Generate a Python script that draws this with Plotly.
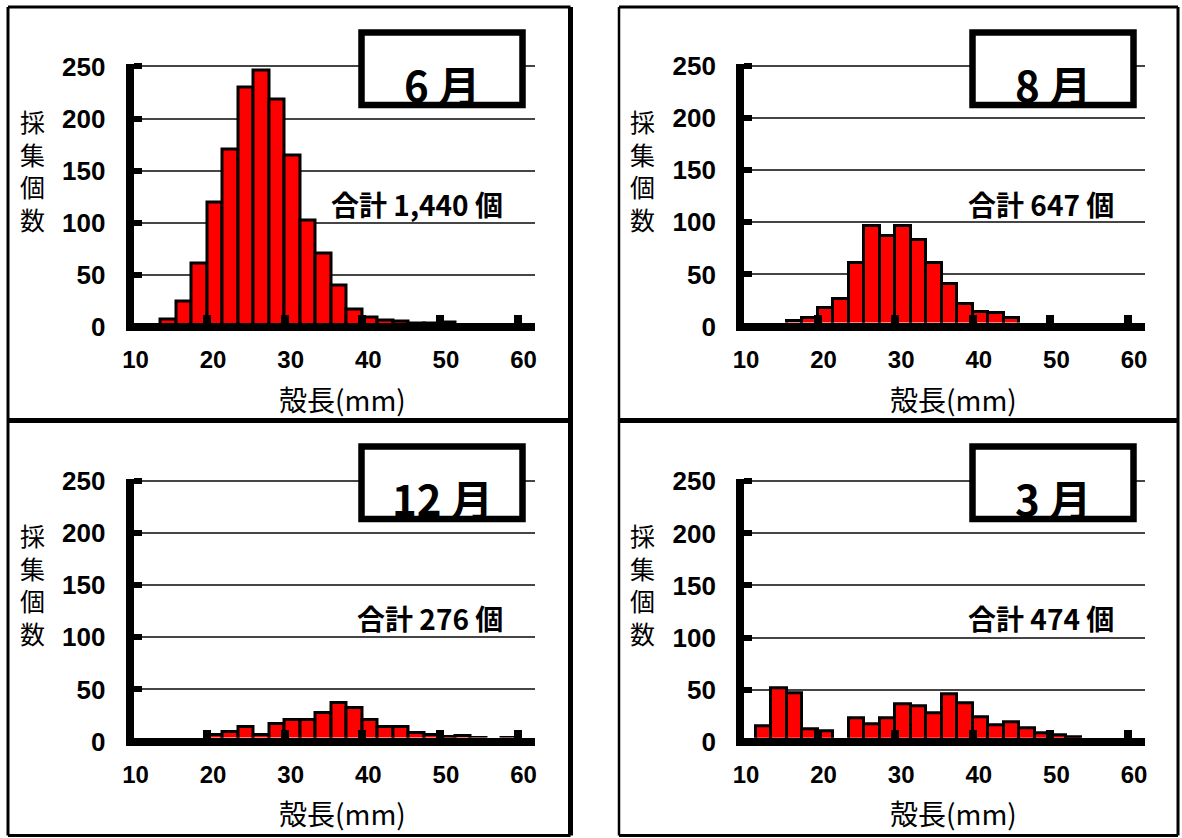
import plotly.graph_objects as go

# Shell-length classes in mm (left edge of each 2 mm class)
length_bins = [10, 12, 14, 16, 18, 20, 22, 24, 26, 28, 30, 32, 34,
               36, 38, 40, 42, 44, 46, 48, 50, 52, 54, 56, 58]

# Number of shells collected per class, by survey month
count_jun = [0, 0, 7, 25, 61, 120, 170, 230, 246, 218, 165, 102, 71,
             40, 17, 9, 6, 5, 3, 3, 4, 2, 1, 1, 1]
count_aug = [0, 0, 0, 5, 8, 18, 26, 61, 97, 87, 97, 83, 61,
             41, 22, 14, 13, 8, 2, 1, 1, 1, 1, 0, 0]
count_dec = [0, 1, 1, 1, 2, 6, 9, 14, 6, 17, 21, 21, 27,
             37, 32, 21, 14, 14, 8, 6, 4, 5, 3, 2, 3]
count_mar = [0, 15, 51, 47, 12, 10, 2, 23, 17, 23, 36, 34, 27,
             46, 37, 24, 16, 19, 13, 8, 6, 4, 2, 1, 1]

month_labels = ["6 月", "8 月", "12 月", "3 月"]
total_labels = ["合計 1,440 個", "合計 647 個", "合計 276 個", "合計 474 個"]

x_tick_vals = [10, 20, 30, 40, 50, 60]
y_tick_vals = [0, 50, 100, 150, 200, 250]
y_axis_title = "採集個数"
x_axis_title = "殻長(mm)"

series = [count_jun, count_aug, count_dec, count_mar]

# ---- page geometry (pixels) ----
W, H = 1182, 838
SX, SY = 7.76, 1.042          # px per mm, px per shell
X_MIN, X_MAX, Y_MAX = 10, 62.2, 252
LW = 8                        # heavy axis line width
HALF = LW / 2
origins = [(129.5, 327.0), (740.0, 326.5), (129.5, 741.5), (740.0, 741.8)]
shifts = [(0, 0), (611, 0), (0, 414), (611, 414)]

CJK = "Noto Sans CJK JP"
NUM = "Liberation Sans, Arial"


def px(x):
    return x / W


def py(y):
    return 1 - y / H


fig = go.Figure()
layout = dict(
    width=W, height=H,
    margin=dict(l=0, r=0, t=0, b=0, autoexpand=False),
    paper_bgcolor="white", plot_bgcolor="rgba(0,0,0,0)",
    showlegend=False, bargap=0,
)
shapes, annotations = [], []

for i, counts in enumerate(series):
    ox, oy = origins[i]
    dx, dy = shifts[i]
    right = ox + (X_MAX - X_MIN) * SX
    top = oy - Y_MAX * SY
    n_main, n_lab = i + 1, i + 5

    fig.add_trace(go.Bar(
        x=length_bins, y=counts, width=2, offset=0,
        marker=dict(color="#ff0000", line=dict(color="black", width=3)),
        xaxis=f"x{n_main}", yaxis=f"y{n_main}", hoverinfo="x+y",
    ))
    # empty trace that carries the tick-label axes
    fig.add_trace(go.Scatter(x=[], y=[], xaxis=f"x{n_lab}", yaxis=f"y{n_lab}",
                             hoverinfo="skip"))

    layout[f"xaxis{n_main}"] = dict(
        domain=[px(ox + HALF), px(right)], range=[X_MIN + HALF / SX, X_MAX],
        anchor=f"y{n_main}", showline=True, linecolor="black", linewidth=LW,
        ticks="inside", tickvals=x_tick_vals, ticklen=8, tickwidth=8,
        tickcolor="black", showticklabels=False, showgrid=False,
        zeroline=False, fixedrange=True, automargin=False,
    )
    layout[f"yaxis{n_main}"] = dict(
        domain=[py(oy - HALF), py(top)], range=[HALF / SY, Y_MAX],
        anchor=f"x{n_main}", showline=True, linecolor="black", linewidth=LW,
        ticks="inside", tickvals=y_tick_vals, ticklen=8, tickwidth=6,
        tickcolor="black", showticklabels=False, showgrid=True,
        gridcolor="#454545", gridwidth=1.5, zeroline=False, fixedrange=True,
        automargin=False,
    )
    layout[f"xaxis{n_lab}"] = dict(
        domain=[px(ox), px(right)], range=[X_MIN, X_MAX], anchor=f"y{n_lab}",
        tickvals=x_tick_vals, ticktext=[str(v) for v in x_tick_vals],
        ticks="", showline=False, showgrid=False, zeroline=False,
        tickfont=dict(family=NUM, size=24, color="black", weight="bold"),
        ticklabelstandoff=16, ticklabelshift=6, fixedrange=True,
        automargin=False,
    )
    layout[f"yaxis{n_lab}"] = dict(
        domain=[py(oy), py(top)], range=[0, Y_MAX], anchor=f"x{n_lab}",
        tickvals=y_tick_vals, ticktext=[str(v) for v in y_tick_vals],
        ticks="", showline=False, showgrid=False, zeroline=False,
        tickfont=dict(family=NUM, size=26, color="black", weight="bold"),
        ticklabelstandoff=23, fixedrange=True, automargin=False,
    )

    # month box
    shapes.append(dict(type="rect", xref="paper", yref="paper",
                       x0=px(361.5 + dx), x1=px(522.5 + dx),
                       y0=py(105 + dy), y1=py(32.5 + dy),
                       line=dict(color="black", width=6.5),
                       fillcolor="white", layer="above"))
    annotations.append(dict(text=month_labels[i], xref="paper", yref="paper",
                            x=px(442 + dx), y=py(83 + dy), showarrow=False,
                            xanchor="center", yanchor="middle",
                            font=dict(family=CJK, size=42, color="black",
                                      weight="bold")))
    # total count
    annotations.append(dict(text=total_labels[i], xref="paper", yref="paper",
                            x=px(505 + dx), y=py(204 + dy), showarrow=False,
                            xanchor="right", yanchor="middle",
                            font=dict(family=CJK, size=28, color="black",
                                      weight="bold")))
    # vertical y title, one character per line
    annotations.append(dict(text="<br>".join(y_axis_title),
                            xref="paper", yref="paper",
                            x=px(32 + dx), y=py(170 + dy),
                            showarrow=False, xanchor="center",
                            yanchor="middle",
                            font=dict(family=CJK, size=25, color="black")))
    # x title
    annotations.append(dict(text=x_axis_title, xref="paper", yref="paper",
                            x=px(342 + dx), y=py(399 + dy), showarrow=False,
                            xanchor="center", yanchor="middle",
                            font=dict(family=CJK, size=28, color="black")))

# panel frames
def hline(y, x0, x1, w):
    return dict(type="line", xref="paper", yref="paper", x0=px(x0), x1=px(x1),
                y0=py(y), y1=py(y), line=dict(color="black", width=w),
                layer="above")


def vline(x, y0, y1, w):
    return dict(type="line", xref="paper", yref="paper", x0=px(x), x1=px(x),
                y0=py(y0), y1=py(y1), line=dict(color="black", width=w),
                layer="above")


for (xa, xb) in [(8, 570.5), (619, 1178)]:
    shapes.append(hline(7, xa, xb, 3))
    shapes.append(hline(420.5, xa, xb, 5))
    shapes.append(hline(835.5, xa, xb, 3))
shapes.append(vline(8, 7, 835.5, 3))
shapes.append(vline(570.5, 7, 835.5, 5))
shapes.append(vline(619, 7, 835.5, 2.5))
shapes.append(vline(1178, 7, 835.5, 3))

layout["shapes"] = shapes
layout["annotations"] = annotations
fig.update_layout(**layout)

fig.write_html("out.html")
